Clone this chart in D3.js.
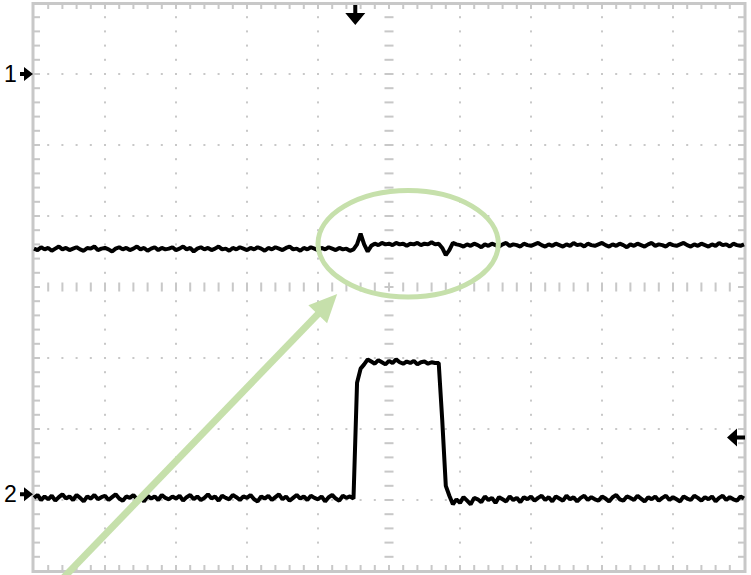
<!DOCTYPE html>
<html>
<head>
<meta charset="utf-8">
<script src="https://cdn.jsdelivr.net/npm/d3@7"></script>
<style>
  body { margin: 0; background: #fff; }
  svg { display: block; }
</style>
</head>
<body>
<div id="chart"></div>
<script>
// scope screen, values in divisions
const tStart = -5;
const tStep = 0.05;

const ch1Values = [
  0.54,0.52,0.56,0.53,0.55,0.51,0.54,0.57,0.53,0.55,0.52,0.54,0.56,0.53,0.51,0.55,0.54,0.57,0.52,0.54,
  0.55,0.53,0.50,0.54,0.56,0.53,0.55,0.52,0.54,0.57,0.53,0.55,0.51,0.54,0.56,0.52,0.55,0.53,0.54,0.56,
  0.52,0.54,0.57,0.53,0.55,0.50,0.54,0.56,0.53,0.55,0.52,0.54,0.57,0.53,0.54,0.51,0.55,0.53,0.56,0.54,
  0.52,0.55,0.53,0.56,0.54,0.51,0.55,0.53,0.56,0.54,0.52,0.55,0.57,0.53,0.54,0.51,0.55,0.53,0.56,0.54,
  0.52,0.55,0.53,0.56,0.54,0.52,0.55,0.53,0.54,0.51,
  0.53,0.60,0.75,0.60,0.50,0.58,0.61,0.59,0.62,0.60,
  0.61,0.59,0.62,0.60,0.61,0.58,0.61,0.60,0.62,0.59,0.61,0.60,0.63,0.60,
  0.61,0.55,0.45,0.52,0.62,0.60,
  0.59,0.57,0.60,0.58,0.61,0.59,0.56,0.60,0.58,0.61,0.59,0.57,0.60,0.62,0.58,0.60,0.59,0.57,0.61,0.59,
  0.58,0.60,0.62,0.59,0.57,0.60,0.58,0.61,0.59,0.57,0.60,0.58,0.62,0.59,0.60,0.57,0.61,0.59,0.58,0.60,
  0.62,0.59,0.57,0.60,0.58,0.61,0.59,0.56,0.60,0.58,0.61,0.59,0.57,0.60,0.62,0.58,0.60,0.59,0.57,0.61,
  0.59,0.58,0.60,0.62,0.59,0.57,0.60,0.58,0.61,0.59,0.57,0.60,0.58,0.62,0.59,0.60,0.57,0.61,0.59,0.58,0.60
];

const ch2Values = [
  -2.97,-2.93,-3.00,-2.95,-2.99,-2.94,-3.01,-2.96,-2.92,-2.98,-2.95,-3.00,-2.93,-2.97,-3.02,-2.95,-2.98,-2.93,-2.99,-2.96,
  -2.94,-3.00,-2.96,-2.92,-2.98,-3.01,-2.95,-2.97,-2.93,-2.99,-2.96,-3.02,-2.94,-2.98,-2.95,-3.00,-2.93,-2.97,-2.99,-2.95,
  -2.98,-2.94,-3.01,-2.96,-2.93,-2.99,-2.95,-3.00,-2.97,-2.92,-2.98,-2.95,-3.01,-2.94,-2.97,-2.99,-2.93,-2.96,-3.00,-2.95,
  -2.97,-2.93,-2.99,-3.02,-2.95,-2.98,-2.94,-3.00,-2.96,-2.92,-2.99,-2.95,-3.01,-2.97,-2.93,-2.98,-2.95,-3.00,-2.94,-2.97,
  -2.99,-2.95,-3.02,-2.96,-2.93,-2.98,-3.01,-2.94,-2.97,-2.95,
  -2.98,-1.35,-1.15,-1.09,-1.02,-1.05,-1.08,-1.03,-1.06,-1.09,
  -1.04,-1.07,-1.02,-1.06,-1.08,-1.05,-1.07,-1.04,-1.09,-1.06,-1.05,-1.08,-1.06,-1.07,
  -1.07,-1.88,-2.80,-2.94,-3.06,-2.99,
  -3.04,-2.96,-3.01,-3.06,-2.97,-2.99,-3.03,-2.95,-3.00,-2.97,-3.04,-2.96,-2.99,-3.02,-2.95,-3.00,-2.97,-3.03,-2.96,-2.99,
  -2.95,-3.01,-2.97,-2.94,-3.00,-2.96,-3.02,-2.95,-2.98,-3.01,-2.94,-2.99,-2.96,-3.02,-2.97,-2.94,-3.00,-2.96,-2.99,-3.01,
  -2.95,-2.98,-3.02,-2.96,-2.93,-2.99,-3.01,-2.95,-2.97,-3.00,-2.94,-2.98,-3.02,-2.96,-2.99,-2.95,-3.01,-2.97,-2.94,-3.00,
  -2.96,-2.99,-3.02,-2.95,-2.98,-3.00,-2.94,-2.97,-3.01,-2.96,-2.99,-2.95,-3.02,-2.97,-2.94,-3.00,-2.96,-2.99,-3.01,-2.95,-2.98
];

// channel ground markers, trigger time and trigger level (divisions)
const channelLabels = ["1", "2"];
const channelOffsets = [3.0, -2.92];
const triggerTime = -0.475;
const triggerLevel = -2.12;

// annotation (divisions)
const circleCenter = [0.27, 0.61];
const circleRadii = [1.27, 0.75];
const arrowFrom = [-4.59, -4.1];
const arrowTo = [-0.73, -0.1];

const width = 751, height = 575;
const gridColor = "#c8c8c8";
const noteColor = "#c6e0ab";

const svg = d3.select("#chart").append("svg")
    .attr("width", width)
    .attr("height", height);

const x = d3.scaleLinear().domain([-5, 5]).range([34, 744]);
const y = d3.scaleLinear().domain([-4, 4]).range([571, 3]);

const minorX = d3.range(-50, 51, 2).map(d => d / 10);
const minorY = d3.range(-40, 41, 2).map(d => d / 10);
const grid = svg.append("g");

// dotted major lines
[-4, -3, -2, -1, 1, 2, 3, 4].forEach(v => {
    grid.selectAll(null)
        .data(minorY.slice(1, -1))
        .enter().append("rect")
        .attr("x", x(v) - 1).attr("y", d => y(d) - 1)
        .attr("width", 2).attr("height", 2)
        .attr("fill", gridColor);
});
[-3, -2, -1, 1, 2, 3].forEach(v => {
    grid.selectAll(null)
        .data(minorX.slice(1, -1))
        .enter().append("rect")
        .attr("x", d => x(d) - 1).attr("y", y(v) - 1)
        .attr("width", 2).attr("height", 2)
        .attr("fill", gridColor);
});

// centre axes with ticks
grid.selectAll(null)
    .data(minorY.slice(1, -1))
    .enter().append("rect")
    .attr("x", x(0) - 4.5).attr("y", d => y(d) - 1)
    .attr("width", 9).attr("height", 2)
    .attr("fill", gridColor);
grid.selectAll(null)
    .data(minorX.slice(1, -1))
    .enter().append("rect")
    .attr("x", d => x(d) - 1).attr("y", y(0) - 4.5)
    .attr("width", 2).attr("height", 9)
    .attr("fill", gridColor);

// frame ticks
grid.selectAll(null)
    .data(minorY.slice(1, -1))
    .enter().append("rect")
    .attr("x", x(-5)).attr("y", d => y(d) - 1)
    .attr("width", 6).attr("height", 2)
    .attr("fill", gridColor);
grid.selectAll(null)
    .data(minorY.slice(1, -1))
    .enter().append("rect")
    .attr("x", x(5) - 6).attr("y", d => y(d) - 1)
    .attr("width", 6).attr("height", 2)
    .attr("fill", gridColor);
grid.selectAll(null)
    .data(minorX.slice(1, -1))
    .enter().append("rect")
    .attr("x", d => x(d) - 1).attr("y", y(4))
    .attr("width", 2).attr("height", 6)
    .attr("fill", gridColor);
grid.selectAll(null)
    .data(minorX.slice(1, -1))
    .enter().append("rect")
    .attr("x", d => x(d) - 1).attr("y", y(-4) - 6)
    .attr("width", 2).attr("height", 6)
    .attr("fill", gridColor);

grid.append("rect")
    .attr("x", x(-5) - 1).attr("y", y(4) + 0.5)
    .attr("width", x(5) - x(-5) + 2).attr("height", y(-4) - y(4))
    .attr("fill", "none")
    .attr("stroke", gridColor)
    .attr("stroke-width", 3);

// traces
const line = d3.line()
    .x((d, i) => x(tStart + i * tStep))
    .y(d => y(d));

[ch1Values, ch2Values].forEach(values => {
    svg.append("path")
        .datum(values)
        .attr("d", line)
        .attr("fill", "none")
        .attr("stroke", "#000")
        .attr("stroke-width", 4)
        .attr("stroke-linejoin", "bevel");
});

// channel markers
channelOffsets.forEach((v, i) => {
    const cy = y(v);
    svg.append("path")
        .attr("transform", `translate(0,${cy})`)
        .attr("d", "M20,-2H24V-7L33,0L24,7V2H20Z")
        .attr("fill", "#000");
    svg.append("text")
        .attr("x", 4)
        .attr("y", cy + 8)
        .attr("font-family", "Liberation Sans, Arial, sans-serif")
        .attr("font-size", 23)
        .attr("fill", "#000")
        .text(channelLabels[i]);
});

// trigger time marker
svg.append("path")
    .attr("transform", `translate(${x(triggerTime)},0)`)
    .attr("d", "M-2,5H2V13H10L0,25L-10,13H-2Z")
    .attr("fill", "#000");

// trigger level marker
svg.append("path")
    .attr("transform", `translate(0,${y(triggerLevel)})`)
    .attr("d", "M727,0L737,-9V-2H745V2H737V9Z")
    .attr("fill", "#000");

// annotation
svg.append("ellipse")
    .attr("cx", x(circleCenter[0]))
    .attr("cy", y(circleCenter[1]))
    .attr("rx", x(circleRadii[0]) - x(0))
    .attr("ry", y(0) - y(circleRadii[1]))
    .attr("fill", "none")
    .attr("stroke", noteColor)
    .attr("stroke-width", 5);

const x0 = x(arrowFrom[0]), y0 = y(arrowFrom[1]);
const x1 = x(arrowTo[0]), y1 = y(arrowTo[1]);
const len = Math.hypot(x1 - x0, y1 - y0);
const ux = (x1 - x0) / len, uy = (y1 - y0) / len;
const headLen = 28, headHalf = 13;
const bx = x1 - ux * headLen, by = y1 - uy * headLen;

svg.append("line")
    .attr("x1", x0).attr("y1", y0)
    .attr("x2", bx + ux * 2).attr("y2", by + uy * 2)
    .attr("stroke", noteColor)
    .attr("stroke-width", 7);

svg.append("path")
    .attr("d", `M${x1},${y1}L${bx - uy * headHalf},${by + ux * headHalf}L${bx + uy * headHalf},${by - ux * headHalf}Z`)
    .attr("fill", noteColor);
</script>
</body>
</html>
